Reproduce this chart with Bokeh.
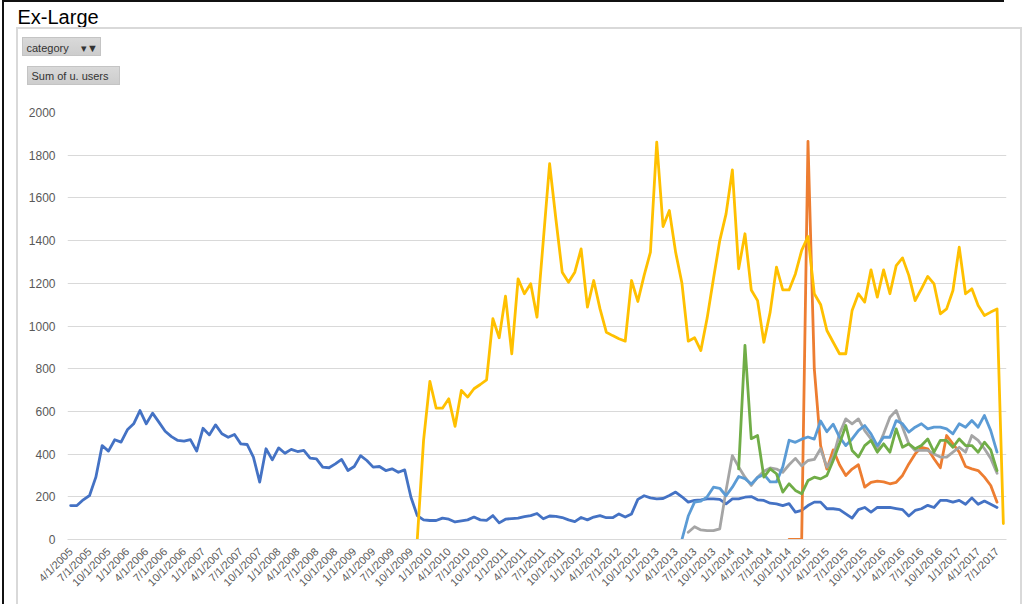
import math
from bokeh.plotting import figure
from bokeh.models import Range1d, FixedTicker, Title, InlineStyleSheet
from bokeh.embed import file_html
from bokeh.resources import INLINE

# ---------------- data ----------------
# monthly categories 4/1/2005 .. 8/1/2017
first_year, first_month, n_months = 2005, 4, 149
months = []
for k in range(n_months):
    mm = (first_month - 1 + k) % 12 + 1
    yy = first_year + (first_month - 1 + k) // 12
    months.append(f"{mm}/1/{yy}")
tick_idx = list(range(0, n_months, 3))
tick_labels = [months[k] for k in tick_idx]

y_ticks = [0, 200, 400, 600, 800, 1000, 1200, 1400, 1600, 1800, 2000]

# series: (start month, values)
blue_start = "4/1/2005"
blue_vals = [159, 159, 186, 206, 292, 440, 414, 467, 456, 514,
             542, 604, 542, 592, 550, 507, 482, 464, 461, 468,
             414, 521, 490, 537, 495, 479, 492, 448, 445, 386,
             269, 425, 373, 429, 404, 422, 412, 417, 381, 378,
             339, 336, 354, 375, 323, 342, 393, 370, 339, 342,
             323, 331, 315, 326, 198, 112, 92, 89, 89, 100,
             95, 82, 87, 92, 105, 92, 90, 112, 78, 95,
             98, 100, 107, 112, 122, 97, 110, 108, 103, 92,
             84, 103, 92, 105, 112, 102, 102, 120, 105, 120,
             188, 205, 195, 190, 192, 206, 222, 200, 175, 183,
             186, 190, 190, 188, 167, 190, 190, 198, 201, 186,
             183, 170, 167, 159, 168, 128, 136, 159, 175, 175,
             144, 144, 140, 120, 100, 140, 150, 128, 150, 150,
             150, 145, 140, 110, 136, 144, 160, 150, 183, 183,
             175, 183, 165, 195, 165, 180, 165, 150]

orange_start = "10/1/2014"
orange_vals = [0, 0, 0, 1865, 800, 440, 330, 420, 350, 300,
               330, 350, 245, 268, 273, 270, 261, 268, 300, 354,
               401, 432, 425, 378, 336, 487, 448, 409, 342, 331,
               323, 292, 253, 175]

grey_start = "6/1/2013"
grey_vals = [34, 60, 45, 42, 42, 50, 230, 393, 340, 292,
             253, 292, 320, 335, 330, 315, 350, 380, 345, 370,
             375, 425, 339, 386, 495, 565, 542, 565, 510, 471,
             425, 495, 573, 604, 526, 448, 417, 417, 417, 401,
             386, 386, 409, 432, 409, 487, 464, 425, 380, 310]

yellow_start = "11/1/2009"
yellow_vals = [0, 464, 741, 615, 615, 659, 530, 698, 667, 706,
               726, 748, 1034, 945, 1140, 870, 1221, 1151, 1198, 1041,
               1400, 1760, 1500, 1252, 1205, 1252, 1361, 1088, 1213, 1080,
               971, 955, 940, 929, 1213, 1115, 1237, 1346, 1861, 1466,
               1541, 1345, 1200, 929, 945, 885, 1037, 1221, 1400, 1525,
               1731, 1268, 1432, 1169, 1119, 924, 1065, 1276, 1169, 1169,
               1244, 1354, 1419, 1151, 1101, 979, 924, 870, 870, 1073,
               1151, 1112, 1263, 1135, 1263, 1151, 1283, 1319, 1237, 1119,
               1174, 1232, 1197, 1057, 1080, 1166, 1369, 1151, 1174, 1096,
               1049, 1065, 1080, 75]

lightblue_start = "5/1/2013"
lightblue_vals = [0, 110, 175, 180, 200, 245, 240, 205, 245, 295,
                  285, 260, 290, 305, 270, 270, 340, 465, 455, 470,
                  480, 470, 555, 505, 540, 480, 440, 471, 510, 534,
                  495, 440, 479, 479, 557, 542, 503, 526, 542, 518,
                  526, 526, 518, 495, 542, 526, 557, 526, 581, 510,
                  409]

green_start = "2/1/2014"
green_vals = [331, 909, 472, 487, 292, 331, 308, 222, 261, 230,
              214, 276, 292, 284, 300, 370, 448, 534, 417, 386,
              440, 464, 409, 448, 409, 518, 432, 448, 425, 440,
              471, 409, 464, 464, 432, 471, 440, 440, 409, 456,
              420, 323]

series = [
    (blue_start, blue_vals, "#4472C4"),
    (orange_start, orange_vals, "#ED7D31"),
    (grey_start, grey_vals, "#A5A5A5"),
    (yellow_start, yellow_vals, "#FFC000"),
    (lightblue_start, lightblue_vals, "#5B9BD5"),
    (green_start, green_vals, "#70AD47"),
]

# ---------------- figure ----------------
W, H = 1024, 600
FL, FB = 67, 539  # frame left / bottom in page pixels
p = figure(width=W, height=H, output_backend="svg", toolbar_location=None,
           x_range=Range1d(-0.5, n_months - 0.5), y_range=Range1d(0, 2000),
           min_border_left=FL, min_border_right=18, min_border_top=112,
           min_border_bottom=H - FB)
p.outline_line_color = None
p.background_fill_color = "white"
p.border_fill_color = None

for start, vals, col in series:
    s = months.index(start)
    xs = list(range(s, s + len(vals)))
    p.line(xs, vals, line_color=col, line_width=2.8, line_join="round", line_cap="round")

# axes
p.xaxis.ticker = FixedTicker(ticks=tick_idx)
p.xaxis.major_label_overrides = {k: lab for k, lab in zip(tick_idx, tick_labels)}
p.xaxis.major_label_orientation = math.pi / 4
p.xaxis.major_tick_line_color = None
p.xaxis.minor_tick_line_color = None
p.xaxis.axis_line_color = "#D9D9D9"
p.xaxis.major_label_text_color = "#595959"
p.xaxis.major_label_text_font = "Liberation Sans"
p.xaxis.major_label_text_font_size = "11px"
p.xaxis.major_label_standoff = 4

p.yaxis.ticker = FixedTicker(ticks=y_ticks)
p.yaxis.major_tick_line_color = None
p.yaxis.minor_tick_line_color = None
p.yaxis.axis_line_color = None
p.yaxis.major_label_text_color = "#595959"
p.yaxis.major_label_text_font = "Liberation Sans"
p.yaxis.major_label_text_font_size = "12px"
p.yaxis.major_label_standoff = 6

p.xgrid.grid_line_color = None
p.ygrid.grid_line_color = "#D9D9D9"
p.ygrid.grid_line_width = 1
p.ygrid.ticker = FixedTicker(ticks=y_ticks)

# header texts stacked in the "above" panel (first added = nearest the frame)
NB = "\u00a0"


def spacer(gap):
    p.add_layout(Title(text=NB, text_font_size="1px", standoff=gap), "above")


def head(text, page_x, size, color):
    p.add_layout(Title(text=text, align="left", offset=page_x - FL, standoff=0,
                       vertical_align="bottom", text_font="Liberation Sans",
                       text_font_size=size, text_font_style="normal",
                       text_color=color), "above")


spacer(28)
head("Sum of u. users", 31, "11px", "#333333")
spacer(11)
head("category" + NB * 4 + "▾▼", 26, "11px", "#333333")
spacer(9)
head("Ex-Large", 17, "20px", "black")

# sheet cell borders, pivot buttons and the chart's own border
p.stylesheets = [InlineStyleSheet(css="""
:host { position: relative;
  background:
    linear-gradient(#D9D9D9, #CDCDCD) 23px 38px / 77px 17px no-repeat,
    linear-gradient(#C4C4C4, #C4C4C4) 22px 37px / 79px 19px no-repeat,
    linear-gradient(#D9D9D9, #CDCDCD) 28px 67px / 91px 17px no-repeat,
    linear-gradient(#C4C4C4, #C4C4C4) 27px 66px / 93px 19px no-repeat,
    white; }
:host::before { content: ""; position: absolute; left: 16px; top: 27px;
  width: 1006px; height: 600px; border: 2px solid #D9D9D9; box-sizing: border-box;
  pointer-events: none; z-index: 5; }
:host::after { content: ""; position: absolute; left: 2px; top: 0px;
  width: 1002px; height: 604px; border-top: 2px solid #111; border-left: 2px solid #111;
  box-sizing: border-box; pointer-events: none; z-index: 5; }
""")]

open("out.html", "w").write(file_html(p, INLINE))
